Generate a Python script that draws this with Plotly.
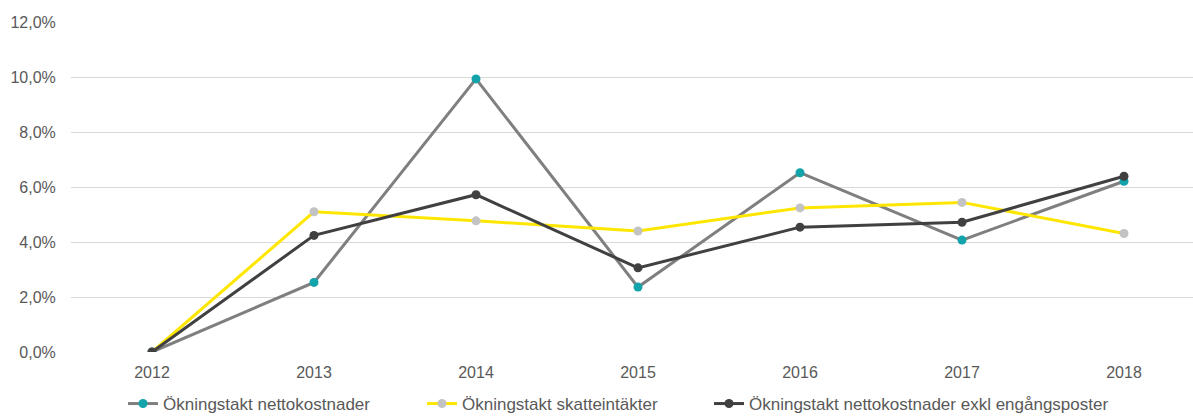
import plotly.graph_objects as go

years = ["2012", "2013", "2014", "2015", "2016", "2017", "2018"]

# Annual growth rates, percent
nettokostnader = [0.0, 2.53, 9.93, 2.36, 6.52, 4.07, 6.21]
skatteintakter = [0.0, 5.10, 4.77, 4.40, 5.24, 5.44, 4.31]
nettokostnader_exkl = [0.0, 4.24, 5.72, 3.06, 4.54, 4.72, 6.39]

names = [
    "Ökningstakt nettokostnader",
    "Ökningstakt skatteintäkter",
    "Ökningstakt nettokostnader exkl engångsposter",
]

W, H = 1193, 416
FONT = "Liberation Sans, Arial, sans-serif"
TEXT = "#595959"

fig = go.Figure()

styles = [
    ("#7f7f7f", "#12a3ab", "legend"),
    ("#ffe600", "#c3c3c3", "legend2"),
    ("#404040", "#404040", "legend3"),
]
for vals, name, (lc, mc, lg) in zip(
    [nettokostnader, skatteintakter, nettokostnader_exkl], names, styles
):
    fig.add_trace(
        go.Scatter(
            x=years,
            y=vals,
            name=name,
            mode="lines+markers",
            line=dict(color=lc, width=3),
            marker=dict(color=mc, size=9),
            legend=lg,
        )
    )

legend_common = dict(
    orientation="h",
    xref="container",
    yref="container",
    y=1 - 404 / H,
    yanchor="middle",
    xanchor="left",
    font=dict(family=FONT, size=17, color=TEXT),
    bgcolor="rgba(0,0,0,0)",
    itemwidth=30,
)

fig.update_layout(
    width=W,
    height=H,
    margin=dict(l=71, r=0, t=22, b=64),
    paper_bgcolor="white",
    plot_bgcolor="white",
    separators=", ",
    showlegend=True,
    legend=dict(x=123 / W, **legend_common),
    legend2=dict(x=422 / W, **legend_common),
    legend3=dict(x=709 / W, **legend_common),
    xaxis=dict(
        type="category",
        range=[-0.5, (W - 71) / 162 - 0.5],
        showgrid=False,
        showline=False,
        zeroline=False,
        ticks="outside",
        ticklen=6,
        tickcolor="rgba(0,0,0,0)",
        tickfont=dict(family=FONT, size=16, color=TEXT),
    ),
    yaxis=dict(
        range=[0, 12],
        dtick=2,
        tickformat=".1f",
        ticksuffix="%",
        showgrid=True,
        gridcolor="#d9d9d9",
        gridwidth=1,
        zeroline=False,
        showline=False,
        ticks="outside",
        ticklen=11,
        tickcolor="rgba(0,0,0,0)",
        tickfont=dict(family=FONT, size=16, color=TEXT),
    ),
)

fig.write_html("out.html")
